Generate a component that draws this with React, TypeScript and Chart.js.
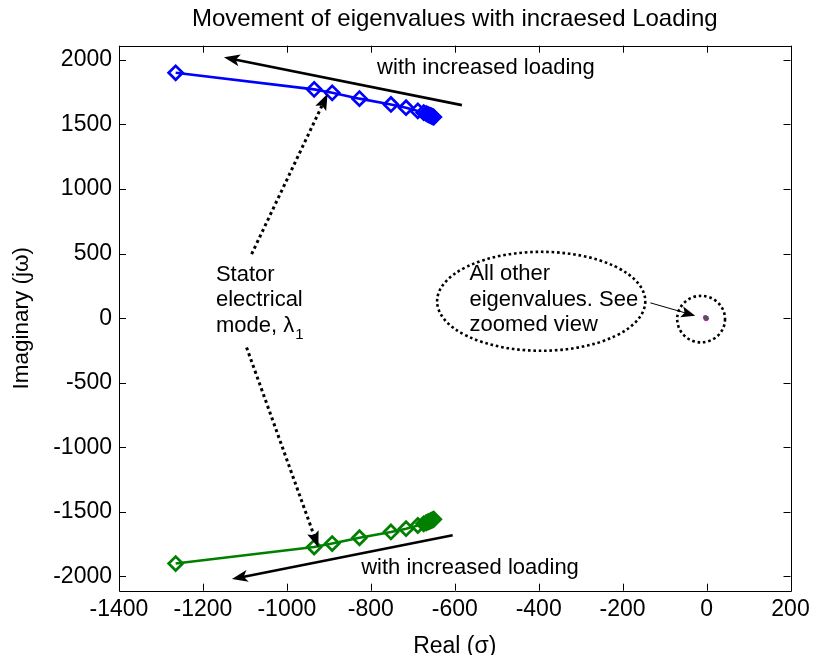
import React, { useEffect, useRef } from "react";
import { Chart, registerables } from "chart.js";

Chart.register(...registerables);

// ---------- data ----------
const chartTitle = "Movement of eigenvalues with incraesed Loading";
const xAxisTitle = "Real (σ)";
const yAxisTitle = "Imaginary (jω)";

const xTickValues = [-1400, -1200, -1000, -800, -600, -400, -200, 0, 200];
const yTickValues = [-2000, -1500, -1000, -500, 0, 500, 1000, 1500, 2000];

// stator electrical mode, upper branch (blue)
const upperReal = [-1265, -935, -892, -827, -752, -716, -688, -674, -668, -664, -661, -658, -656, -654, -652, -650];
const upperImag = [1900, 1772, 1745, 1700, 1655, 1630, 1605, 1592, 1584, 1578, 1573, 1569, 1566, 1563, 1560, 1557];

// stator electrical mode, lower branch (green)
const lowerReal = [-1265, -935, -892, -827, -752, -716, -688, -674, -668, -664, -661, -658, -656, -654, -652, -650];
const lowerImag = [-1900, -1772, -1745, -1700, -1655, -1630, -1605, -1592, -1584, -1578, -1573, -1569, -1566, -1563, -1560, -1557];

// all other eigenvalues (near origin)
const otherReal = [-3, -1, 0, -2];
const otherImag = [6, -6, 0, 2];

// annotation texts
const arrowLabel = "with increased loading";
const statorLines = ["Stator", "electrical", "mode, λ"];
const statorSub = "1";
const otherLines = ["All other", "eigenvalues. See", "zoomed view"];

// annotation anchors (data coordinates)
const upperArrow = [[-583, 1650], [-1150, 2020]];
const lowerArrow = [[-605, -1680], [-1131, -2020]];
const statorArrowUp = [[-1084, 496], [-903, 1737]];
const statorArrowDown = [[-1096, -227], [-925, -1775]];
const zoomArrow = [[-134, 119], [-27, 19]];
const upperLabelPos = [-785, 1889];
const lowerLabelPos = [-823, -1977];
const statorLabelPos = [-1169, 289];
const otherLabelPos = [-565, 295];
const bigEllipse = [-394, 131, 248, 383];
const smallEllipse = [-13, -7, 57, 180];

const FONT = '"Liberation Sans", Arial, Helvetica, sans-serif';

function toPx(chart: any, p: number[]) {
  return [chart.scales.x.getPixelForValue(p[0]), chart.scales.y.getPixelForValue(p[1])];
}

function arrowHead(ctx: CanvasRenderingContext2D, tx: number, ty: number, ang: number, len: number, hw: number, notch: number) {
  const c = Math.cos(ang), s = Math.sin(ang);
  const bx = tx - c * len, by = ty - s * len;
  ctx.beginPath();
  ctx.moveTo(tx, ty);
  ctx.lineTo(bx - s * hw, by + c * hw);
  ctx.lineTo(tx - c * (len - notch), ty - s * (len - notch));
  ctx.lineTo(bx + s * hw, by - c * hw);
  ctx.closePath();
  ctx.fill();
}

function drawArrow(chart: any, seg: number[][], width: number, dash: number[], len: number, hw: number, notch: number) {
  const ctx: CanvasRenderingContext2D = chart.ctx;
  const [x0, y0] = toPx(chart, seg[0]);
  const [x1, y1] = toPx(chart, seg[1]);
  const ang = Math.atan2(y1 - y0, x1 - x0);
  const ex = x1 - Math.cos(ang) * (len - notch - 1);
  const ey = y1 - Math.sin(ang) * (len - notch - 1);
  ctx.save();
  ctx.strokeStyle = "#000";
  ctx.fillStyle = "#000";
  ctx.lineWidth = width;
  ctx.setLineDash(dash);
  ctx.beginPath();
  ctx.moveTo(x0, y0);
  ctx.lineTo(ex, ey);
  ctx.stroke();
  ctx.setLineDash([]);
  arrowHead(ctx, x1, y1, ang, len, hw, notch);
  ctx.restore();
}

function drawEllipse(chart: any, e: number[]) {
  const ctx: CanvasRenderingContext2D = chart.ctx;
  const sx = chart.scales.x, sy = chart.scales.y;
  const cx = sx.getPixelForValue(e[0]);
  const cy = sy.getPixelForValue(e[1]);
  const rx = Math.abs(sx.getPixelForValue(e[0] + e[2]) - cx);
  const ry = Math.abs(sy.getPixelForValue(e[1] + e[3]) - cy);
  ctx.save();
  ctx.strokeStyle = "#000";
  ctx.lineWidth = 2.6;
  ctx.setLineDash([2.6, 2.8]);
  ctx.beginPath();
  ctx.ellipse(cx, cy, rx, ry, 0, 0, Math.PI * 2);
  ctx.stroke();
  ctx.restore();
}

function drawLines(chart: any, pos: number[], lines: string[]) {
  const ctx: CanvasRenderingContext2D = chart.ctx;
  const [x, y] = toPx(chart, pos);
  ctx.save();
  ctx.fillStyle = "#000";
  ctx.font = `22px ${FONT}`;
  ctx.textAlign = "left";
  ctx.textBaseline = "alphabetic";
  lines.forEach((t, i) => ctx.fillText(t, x, y + i * 25.5));
  ctx.restore();
  return [x, y];
}

const annotationPlugin = {
  id: "annotations",
  afterDatasetsDraw(chart: any) {
    const ctx: CanvasRenderingContext2D = chart.ctx;
    const { left, right, top, bottom } = chart.chartArea;

    // frame with inside ticks (MATLAB box)
    ctx.save();
    ctx.strokeStyle = "#000";
    ctx.lineWidth = 1;
    ctx.beginPath();
    ctx.rect(Math.round(left) + 0.5, Math.round(top) + 0.5, Math.round(right - left), Math.round(bottom - top));
    ctx.stroke();
    const tl = 7;
    ctx.beginPath();
    xTickValues.forEach((v) => {
      const px = Math.round(chart.scales.x.getPixelForValue(v)) + 0.5;
      ctx.moveTo(px, bottom);
      ctx.lineTo(px, bottom - tl);
      ctx.moveTo(px, top);
      ctx.lineTo(px, top + tl);
    });
    yTickValues.forEach((v) => {
      const py = Math.round(chart.scales.y.getPixelForValue(v)) + 0.5;
      ctx.moveTo(left, py);
      ctx.lineTo(left + tl, py);
      ctx.moveTo(right, py);
      ctx.lineTo(right - tl, py);
    });
    ctx.stroke();
    ctx.restore();

    // arrows
    drawArrow(chart, upperArrow, 2.6, [], 16, 6, 4);
    drawArrow(chart, lowerArrow, 2.6, [], 16, 6, 4);
    drawArrow(chart, statorArrowUp, 3, [3, 3.2], 16, 6, 3);
    drawArrow(chart, statorArrowDown, 3, [3, 3.2], 16, 6, 3);
    drawArrow(chart, zoomArrow, 1, [], 14, 5.5, 3);

    // ellipses
    drawEllipse(chart, bigEllipse);
    drawEllipse(chart, smallEllipse);

    // texts
    drawLines(chart, upperLabelPos, [arrowLabel]);
    drawLines(chart, lowerLabelPos, [arrowLabel]);
    const [sx, sy] = drawLines(chart, statorLabelPos, statorLines);
    drawLines(chart, otherLabelPos, otherLines);
    ctx.save();
    ctx.font = `22px ${FONT}`;
    const w = ctx.measureText(statorLines[2]).width;
    ctx.font = `15px ${FONT}`;
    ctx.fillStyle = "#000";
    ctx.textBaseline = "alphabetic";
    ctx.fillText(statorSub, sx + w + 1, sy + 2 * 25.5 + 7);
    ctx.restore();
  },
};

function pts(xs: number[], ys: number[]) {
  return xs.map((x, i) => ({ x, y: ys[i] }));
}

export default function App() {
  const ref = useRef<HTMLCanvasElement>(null);

  useEffect(() => {
    if (!ref.current) return;
    const chart = new Chart(ref.current, {
      type: "scatter",
      data: {
        datasets: [
          {
            data: pts(upperReal, upperImag),
            showLine: true,
            borderColor: "#0000FF",
            backgroundColor: "rgba(0,0,0,0)",
            borderWidth: 2.6,
            pointStyle: "rectRot",
            pointRadius: 7,
            pointBorderWidth: 2.7,
            pointBorderColor: "#0000FF",
            pointBackgroundColor: "rgba(0,0,0,0)",
          },
          {
            data: pts(lowerReal, lowerImag),
            showLine: true,
            borderColor: "#008000",
            backgroundColor: "rgba(0,0,0,0)",
            borderWidth: 2.6,
            pointStyle: "rectRot",
            pointRadius: 7,
            pointBorderWidth: 2.7,
            pointBorderColor: "#008000",
            pointBackgroundColor: "rgba(0,0,0,0)",
          },
          {
            data: pts(otherReal, otherImag),
            showLine: false,
            pointStyle: "circle",
            pointRadius: 2.4,
            pointBorderWidth: 0,
            pointBackgroundColor: ["#FF00FF", "#FF00FF", "#555555", "#555555"],
          },
        ],
      },
      options: {
        responsive: false,
        animation: false,
        events: [],
        layout: { padding: { left: 0, right: 26.5, top: 0, bottom: 0 } },
        plugins: {
          legend: { display: false },
          tooltip: { enabled: false },
          title: {
            display: true,
            text: chartTitle,
            fullSize: false,
            color: "#000",
            font: { family: FONT, size: 24, weight: "normal", lineHeight: 1.2 },
            padding: { top: 4.6, bottom: 12.3 },
          },
        },
        scales: {
          x: {
            type: "linear",
            min: -1400,
            max: 200,
            afterBuildTicks: (s: any) => {
              s.ticks = xTickValues.map((v) => ({ value: v }));
            },
            afterFit: (s: any) => {
              s.height = 64.3;
            },
            grid: { display: false, drawTicks: false },
            border: { display: false },
            ticks: {
              color: "#000",
              padding: 5.5,
              maxRotation: 0,
              autoSkip: false,
              font: { family: FONT, size: 23, lineHeight: 1.2 },
              callback: (v: any) => String(v),
            },
            title: {
              display: true,
              text: xAxisTitle,
              color: "#000",
              font: { family: FONT, size: 23, lineHeight: 1 },
              padding: { top: 0, bottom: -3.5 },
            },
          },
          y: {
            type: "linear",
            min: -2110,
            max: 2110,
            afterBuildTicks: (s: any) => {
              s.ticks = yTickValues.map((v) => ({ value: v }));
            },
            afterFit: (s: any) => {
              s.width = 119;
            },
            grid: { display: false, drawTicks: false },
            border: { display: false },
            ticks: {
              color: "#000",
              padding: 7,
              autoSkip: false,
              font: { family: FONT, size: 23, lineHeight: 1.2 },
              callback: (v: any) => String(v),
            },
            title: {
              display: true,
              text: yAxisTitle,
              color: "#000",
              font: { family: FONT, size: 22.5, lineHeight: 1.2 },
              padding: { top: 8.5, bottom: 0 },
            },
          },
        },
      },
      plugins: [annotationPlugin],
    } as any);
    return () => chart.destroy();
  }, []);

  return (
    <div style={{ position: "absolute", left: 0, top: 0, width: 817, height: 655, background: "#fff" }}>
      <canvas ref={ref} width={817} height={655} style={{ display: "block" }} />
    </div>
  );
}
